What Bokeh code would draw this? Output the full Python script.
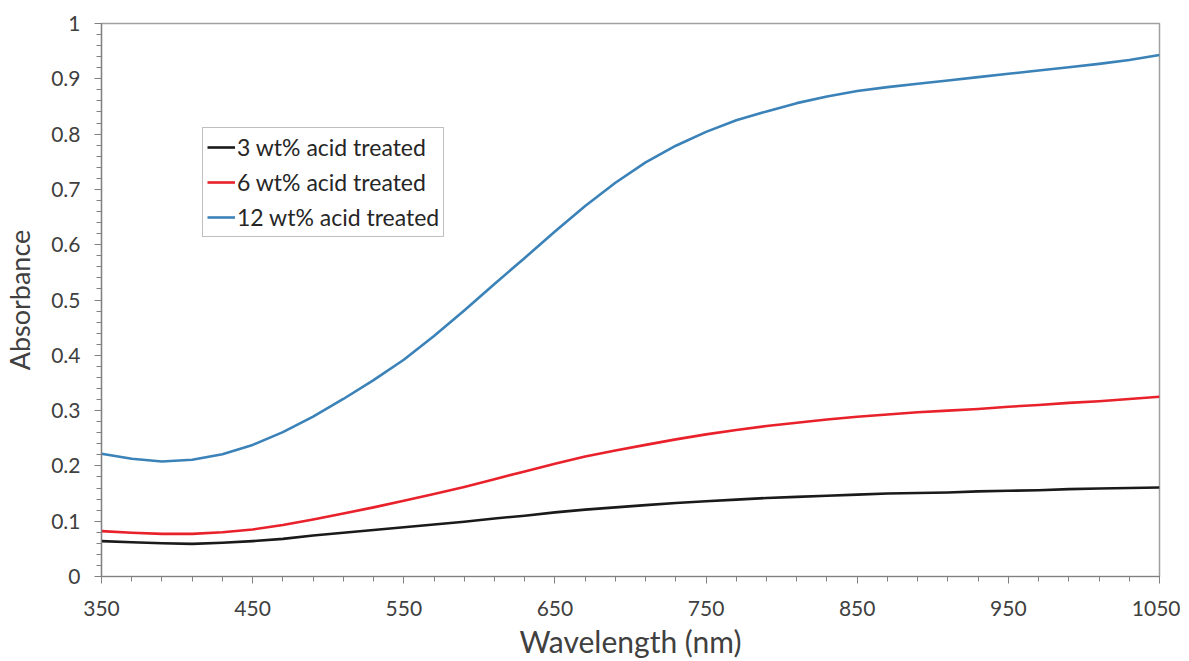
from bokeh.plotting import figure
from bokeh.models import FixedTicker, CustomJSTickFormatter, Range1d, Legend, LegendItem
from bokeh.embed import file_html
from bokeh.resources import INLINE

wavelength = [350, 370, 390, 410, 430, 450, 470, 490, 510, 530, 550, 570, 590, 610, 630, 650,
              670, 690, 710, 730, 750, 770, 790, 810, 830, 850, 870, 890, 910, 930, 950, 970,
              990, 1010, 1030, 1050]
acid_3 = [0.064, 0.062, 0.060, 0.059, 0.061, 0.064, 0.068, 0.074, 0.079, 0.084, 0.089, 0.094,
          0.099, 0.105, 0.110, 0.116, 0.121, 0.125, 0.129, 0.133, 0.136, 0.139, 0.142, 0.144,
          0.146, 0.148, 0.150, 0.151, 0.152, 0.154, 0.155, 0.156, 0.158, 0.159, 0.160, 0.161]
acid_6 = [0.082, 0.079, 0.077, 0.077, 0.080, 0.085, 0.093, 0.103, 0.114, 0.125, 0.137, 0.149,
          0.162, 0.176, 0.190, 0.204, 0.217, 0.228, 0.238, 0.248, 0.257, 0.265, 0.272, 0.278,
          0.284, 0.289, 0.293, 0.297, 0.300, 0.303, 0.307, 0.310, 0.314, 0.317, 0.321, 0.325]
acid_12 = [0.222, 0.213, 0.208, 0.211, 0.221, 0.238, 0.261, 0.289, 0.321, 0.355, 0.392, 0.435,
           0.481, 0.529, 0.576, 0.624, 0.670, 0.712, 0.749, 0.779, 0.804, 0.825, 0.841, 0.856,
           0.868, 0.878, 0.885, 0.891, 0.897, 0.903, 0.909, 0.915, 0.921, 0.927, 0.934, 0.943]

series_names = ["3 wt% acid treated", "6 wt% acid treated", "12 wt% acid treated"]
series_colors = ["#1a1a1a", "#e8212b", "#3a82b8"]

x_ticks = [350, 450, 550, 650, 750, 850, 950, 1050]
y_ticks = [0, 0.1, 0.2, 0.3, 0.4, 0.5, 0.6, 0.7, 0.8, 0.9, 1.0]

FONT = "Lato"

p = figure(width=1180, height=661, output_backend="svg", toolbar_location=None,
           x_range=Range1d(350, 1050), y_range=Range1d(0, 1),
           min_border_left=99, min_border_right=21, min_border_top=23, min_border_bottom=85)
p.background_fill_color = "white"
p.border_fill_color = "white"
p.outline_line_color = "#a0a0a0"
p.outline_line_width = 1.5
p.xgrid.visible = False
p.ygrid.visible = False

renderers = []
for ys, c in zip([acid_3, acid_6, acid_12], series_colors):
    r = p.line(wavelength, ys, line_color=c, line_width=2.6, line_join="round")
    renderers.append(r)

fmt = CustomJSTickFormatter(code="return tick.toFixed(1).replace(/\\.0$/, '');")

p.xaxis.ticker = FixedTicker(ticks=x_ticks, minor_ticks=list(range(350, 1051, 20)))
p.yaxis.ticker = FixedTicker(ticks=y_ticks, minor_ticks=[i / 50 for i in range(0, 51)])
p.yaxis.formatter = fmt

for ax in (p.xaxis, p.yaxis):
    ax.axis_line_color = "#808080"
    ax.axis_line_width = 1.2
    ax.major_tick_line_color = "#808080"
    ax.minor_tick_line_color = "#808080"
    ax.major_tick_out = 7
    ax.major_tick_in = 0
    ax.minor_tick_out = 5
    ax.minor_tick_in = 0
    ax.major_label_text_font = FONT
    ax.major_label_text_font_size = "21px"
    ax.major_label_text_color = "#404040"
    ax.axis_label_text_font = FONT
    ax.axis_label_text_font_style = "normal"
    ax.axis_label_text_color = "#404040"

p.xaxis.axis_label_text_font_size = "30px"
p.yaxis.axis_label_text_font_size = "27px"
p.xaxis.axis_label = "Wavelength (nm)"
p.yaxis.axis_label = "Absorbance"
p.xaxis.major_label_standoff = 17
p.yaxis.major_label_standoff = 14
p.xaxis.axis_label_standoff = 4
p.yaxis.axis_label_standoff = 12

legend = Legend(items=[LegendItem(label=n, renderers=[r]) for n, r in zip(series_names, renderers)],
                location=(101, 339))
legend.label_text_font = FONT
legend.label_text_font_size = "23px"
legend.label_text_color = "#262626"
legend.border_line_color = "#808080"
legend.border_line_width = 1.2
legend.background_fill_alpha = 1
legend.glyph_width = 28
legend.glyph_height = 30
legend.label_height = 30
legend.label_standoff = 2
legend.spacing = 5
legend.padding = 4
legend.margin = 0
p.add_layout(legend, "center")

open("out.html", "w").write(file_html(p, INLINE))
